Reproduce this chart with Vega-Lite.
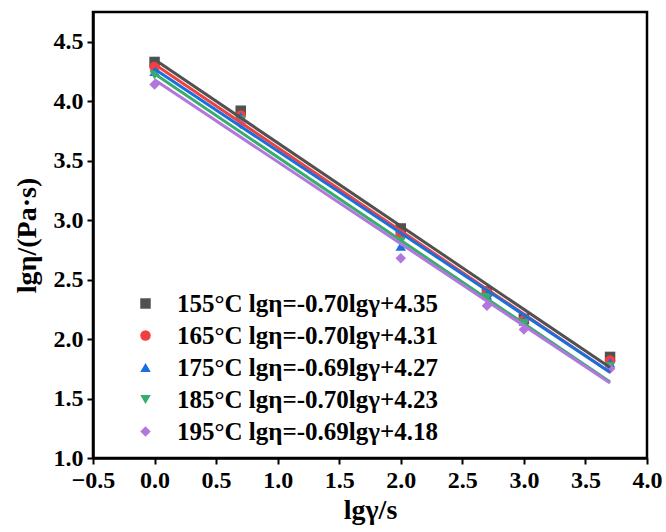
{
  "$schema": "https://vega.github.io/schema/vega-lite/v6.json",
  "width": 554,
  "height": 446,
  "autosize": "none",
  "padding": {"left": 93, "top": 12, "right": 19, "bottom": 74},
  "background": "white",
  "config": {
    "view": {"stroke": "black", "strokeWidth": 2.5},
    "font": "Liberation Serif",
    "axis": {
      "grid": false,
      "domainColor": "black",
      "domainWidth": 2.5,
      "tickColor": "black",
      "tickWidth": 2,
      "tickSize": 6,
      "labelFont": "Liberation Serif",
      "labelFontWeight": "bold",
      "labelFontSize": 24,
      "labelColor": "black",
      "labelOverlap": false,
      "labelBound": false,
      "labelFlush": false,
      "titleFont": "Liberation Serif",
      "titleFontWeight": "bold",
      "titleFontSize": 28,
      "titleColor": "black"
    },
    "legend": {
      "title": null,
      "orient": "none",
      "legendX": 40,
      "legendY": 279,
      "labelFont": "Liberation Serif",
      "labelFontWeight": "bold",
      "labelFontSize": 25,
      "labelColor": "black",
      "labelLimit": 500,
      "symbolSize": 110,
      "rowPadding": 6,
      "labelOffset": 19,
      "symbolStrokeWidth": 0
    }
  },
  "datasets": {
    "points": [
      {"series": "155°C lgη=-0.70lgγ+4.35", "x": 0, "y": 4.33},
      {"series": "155°C lgη=-0.70lgγ+4.35", "x": 0.7, "y": 3.92},
      {"series": "155°C lgη=-0.70lgγ+4.35", "x": 2.0, "y": 2.93},
      {"series": "155°C lgη=-0.70lgγ+4.35", "x": 2.7, "y": 2.40},
      {"series": "155°C lgη=-0.70lgγ+4.35", "x": 3.0, "y": 2.17},
      {"series": "155°C lgη=-0.70lgγ+4.35", "x": 3.7, "y": 1.85},
      {"series": "165°C lgη=-0.70lgγ+4.31", "x": 0, "y": 4.29},
      {"series": "165°C lgη=-0.70lgγ+4.31", "x": 0.7, "y": 3.88},
      {"series": "165°C lgη=-0.70lgγ+4.31", "x": 2.0, "y": 2.88},
      {"series": "165°C lgη=-0.70lgγ+4.31", "x": 2.7, "y": 2.39},
      {"series": "165°C lgη=-0.70lgγ+4.31", "x": 3.0, "y": 2.16},
      {"series": "165°C lgη=-0.70lgγ+4.31", "x": 3.7, "y": 1.82},
      {"series": "175°C lgη=-0.69lgγ+4.27", "x": 0, "y": 4.25},
      {"series": "175°C lgη=-0.69lgγ+4.27", "x": 0.7, "y": 3.87},
      {"series": "175°C lgη=-0.69lgγ+4.27", "x": 2.0, "y": 2.78},
      {"series": "175°C lgη=-0.69lgγ+4.27", "x": 2.7, "y": 2.37},
      {"series": "175°C lgη=-0.69lgγ+4.27", "x": 3.0, "y": 2.15},
      {"series": "175°C lgη=-0.69lgγ+4.27", "x": 3.7, "y": 1.80},
      {"series": "185°C lgη=-0.70lgγ+4.23", "x": 0, "y": 4.22},
      {"series": "185°C lgη=-0.70lgγ+4.23", "x": 0.7, "y": 3.84},
      {"series": "185°C lgη=-0.70lgγ+4.23", "x": 2.0, "y": 2.82},
      {"series": "185°C lgη=-0.70lgγ+4.23", "x": 2.7, "y": 2.35},
      {"series": "185°C lgη=-0.70lgγ+4.23", "x": 3.0, "y": 2.13},
      {"series": "185°C lgη=-0.70lgγ+4.23", "x": 3.7, "y": 1.77},
      {"series": "195°C lgη=-0.69lgγ+4.18", "x": 0, "y": 4.14},
      {"series": "195°C lgη=-0.69lgγ+4.18", "x": 0.7, "y": 3.81},
      {"series": "195°C lgη=-0.69lgγ+4.18", "x": 2.0, "y": 2.68},
      {"series": "195°C lgη=-0.69lgγ+4.18", "x": 2.7, "y": 2.28},
      {"series": "195°C lgη=-0.69lgγ+4.18", "x": 3.0, "y": 2.08},
      {"series": "195°C lgη=-0.69lgγ+4.18", "x": 3.7, "y": 1.75}
    ],
    "fits": [
      {"series": "155°C lgη=-0.70lgγ+4.35", "x": 0, "y": 4.35},
      {"series": "155°C lgη=-0.70lgγ+4.35", "x": 3.7, "y": 1.76},
      {"series": "165°C lgη=-0.70lgγ+4.31", "x": 0, "y": 4.31},
      {"series": "165°C lgη=-0.70lgγ+4.31", "x": 3.7, "y": 1.72},
      {"series": "175°C lgη=-0.69lgγ+4.27", "x": 0, "y": 4.27},
      {"series": "175°C lgη=-0.69lgγ+4.27", "x": 3.7, "y": 1.72},
      {"series": "185°C lgη=-0.70lgγ+4.23", "x": 0, "y": 4.23},
      {"series": "185°C lgη=-0.70lgγ+4.23", "x": 3.7, "y": 1.64},
      {"series": "195°C lgη=-0.69lgγ+4.18", "x": 0, "y": 4.18},
      {"series": "195°C lgη=-0.69lgγ+4.18", "x": 3.7, "y": 1.63}
    ]
  },
  "encoding": {
    "x": {
      "field": "x", "type": "quantitative",
      "scale": {"domain": [-0.5, 4.0], "nice": false, "zero": false},
      "axis": {"values": [-0.5, 0, 0.5, 1, 1.5, 2, 2.5, 3, 3.5, 4], "format": ".1f", "title": "lgγ/s", "titlePadding": 4, "labelPadding": 4}
    },
    "y": {
      "field": "y", "type": "quantitative",
      "scale": {"domain": [1.0, 4.75], "nice": false, "zero": false},
      "axis": {"values": [1, 1.5, 2, 2.5, 3, 3.5, 4, 4.5], "format": ".1f", "title": "lgη/(Pa·s)", "titlePadding": 12, "labelPadding": 4}
    },
    "color": {
      "field": "series", "type": "nominal",
      "scale": {
        "domain": ["155°C lgη=-0.70lgγ+4.35", "165°C lgη=-0.70lgγ+4.31", "175°C lgη=-0.69lgγ+4.27", "185°C lgη=-0.70lgγ+4.23", "195°C lgη=-0.69lgγ+4.18"],
        "range": ["#515151", "#F14040", "#1A6FDF", "#37AD6B", "#B177DE"]
      }
    }
  },
  "layer": [
    {
      "data": {"name": "points"},
      "mark": {"type": "point", "filled": true, "opacity": 1, "size": 110},
      "encoding": {
        "shape": {
          "field": "series", "type": "nominal",
          "scale": {
            "domain": ["155°C lgη=-0.70lgγ+4.35", "165°C lgη=-0.70lgγ+4.31", "175°C lgη=-0.69lgγ+4.27", "185°C lgη=-0.70lgγ+4.23", "195°C lgη=-0.69lgγ+4.18"],
            "range": ["square", "circle", "triangle-up", "triangle-down", "diamond"]
          }
        }
      }
    },
    {
      "data": {"name": "fits"},
      "mark": {"type": "line", "strokeWidth": 3},
      "encoding": {"detail": {"field": "series"}}
    }
  ]
}
